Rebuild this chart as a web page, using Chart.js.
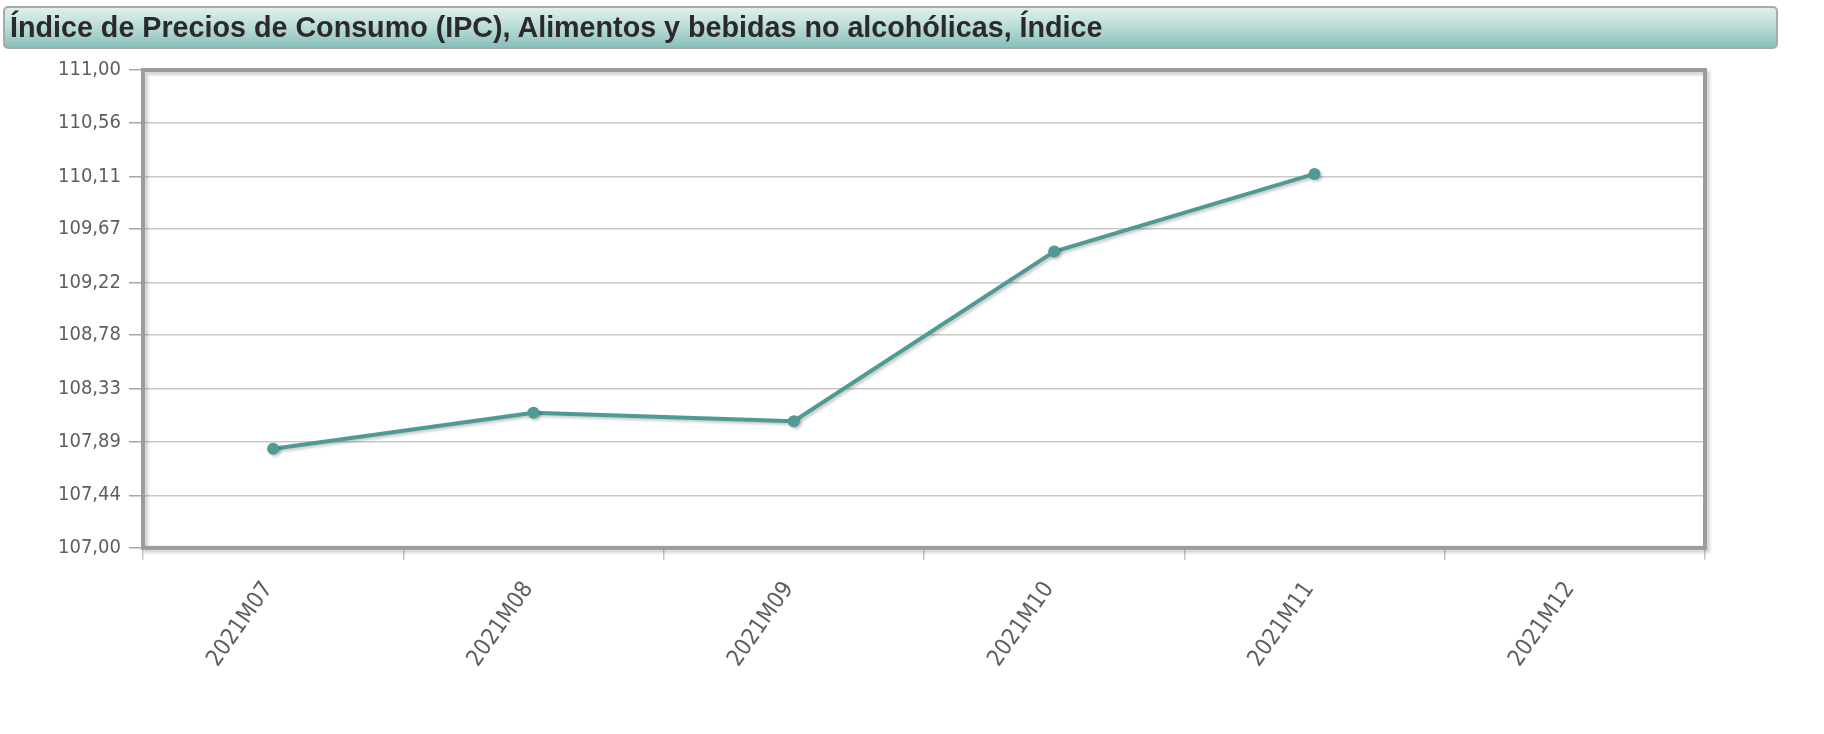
<!DOCTYPE html>
<html>
<head>
<meta charset="utf-8">
<script src="https://cdn.jsdelivr.net/npm/chart.js@4/dist/chart.umd.min.js"></script>
<style>
  html, body { margin: 0; padding: 0; background: #fff; width: 1824px; height: 734px; overflow: hidden; }
  #title {
    position: absolute; left: 3px; top: 6px; width: 1766px; height: 39px;
    border: 2px solid #a9a9a9; border-radius: 5px;
    background: linear-gradient(to bottom, #e0efed 0%, #b4d9d5 55%, #88c0bb 100%);
    font-family: "Liberation Sans", Arial, sans-serif; font-weight: bold; font-size: 28.7px;
    color: #2a2a2a; display: flex; align-items: center; padding-left: 5px; box-sizing: content-box;
    white-space: nowrap;
  }
  #wrap { position: absolute; left: 0; top: 0; width: 1824px; height: 734px; }
</style>
</head>
<body>
<div id="wrap"><canvas id="c" width="1824" height="734"></canvas></div>
<div id="title">Índice de Precios de Consumo (IPC), Alimentos y bebidas no alcohólicas, Índice</div>
<script>
const categories = ["2021M07", "2021M08", "2021M09", "2021M10", "2021M11", "2021M12"];
const values = [107.83, 108.13, 108.06, 109.48, 110.13, null];
const yTickValues = [107.00, 107.44, 107.89, 108.33, 108.78, 109.22, 109.67, 110.11, 110.56, 111.00];
const seriesLabel = "Alimentos y bebidas no alcohólicas";

const lineColor = "#4f9a95";

const framePlugin = {
  id: "frame",
  beforeDatasetsDraw(chart) {
    const { ctx, chartArea: a } = chart;
    ctx.save();
    ctx.shadowColor = "rgba(0,0,0,0.18)";
    ctx.shadowOffsetX = 3;
    ctx.shadowOffsetY = 3;
    ctx.shadowBlur = 3;
    ctx.strokeStyle = "#9b9b9b";
    ctx.lineWidth = 4;
    ctx.strokeRect(a.left, a.top, a.right - a.left, a.bottom - a.top);
    ctx.restore();
    ctx.save();
    ctx.shadowColor = "rgba(0,0,0,0.22)";
    ctx.shadowOffsetX = 2;
    ctx.shadowOffsetY = 2;
    ctx.shadowBlur = 3;
  },
  afterDatasetsDraw(chart) {
    chart.ctx.restore();
  }
};

new Chart(document.getElementById("c"), {
  type: "line",
  data: {
    labels: categories,
    datasets: [{
      label: seriesLabel,
      data: values,
      borderColor: lineColor,
      backgroundColor: lineColor,
      borderWidth: 4,
      pointRadius: 6,
      pointBackgroundColor: lineColor,
      pointBorderWidth: 0,
      tension: 0,
      spanGaps: false
    }]
  },
  options: {
    responsive: false,
    animation: false,
    events: [],
    layout: { padding: { top: 70, left: 50, right: 119, bottom: 45 } },
    plugins: { legend: { display: false }, tooltip: { enabled: false }, title: { display: false } },
    scales: {
      x: {
        type: "category",
        offset: true,
        border: { display: false },
        grid: { offset: true, drawOnChartArea: false, drawTicks: true, tickLength: 12, color: "#c4c4c4", lineWidth: 1.5 },
        ticks: {
          autoSkip: false, minRotation: 55, maxRotation: 55, padding: 17, labelOffset: -5,
          color: "#5e5e5e", font: { family: "'DejaVu Sans Condensed', 'DejaVu Sans'", size: 23 }
        }
      },
      y: {
        min: 107, max: 111,
        border: { display: false },
        afterBuildTicks(scale) { scale.ticks = yTickValues.map(v => ({ value: v })); },
        grid: { color: "#c8c8c8", lineWidth: 1.5, tickLength: 14, tickColor: "#a8a8a8", drawTicks: true },
        ticks: {
          padding: 8, color: "#5e5e5e", font: { family: "'DejaVu Sans Condensed', 'DejaVu Sans'", size: 20 },
          callback: (v) => Number(v).toFixed(2).replace(".", ",")
        }
      }
    }
  },
  plugins: [framePlugin]
});
</script>
</body>
</html>
